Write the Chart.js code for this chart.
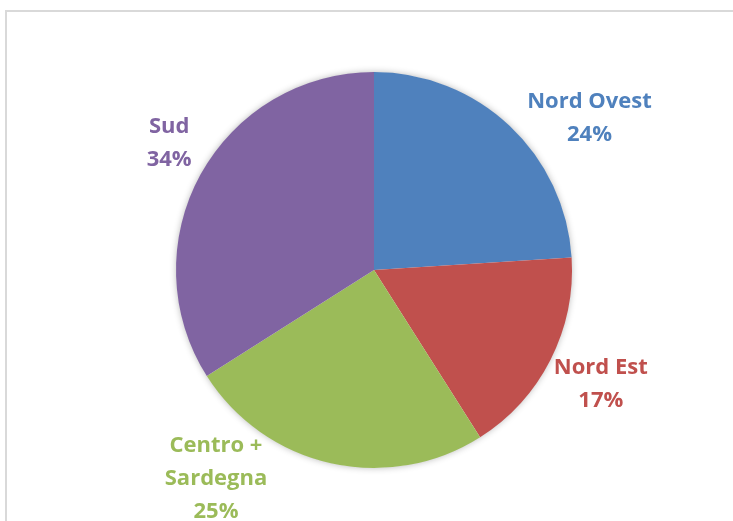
<!DOCTYPE html>
<html>
<head>
<meta charset="utf-8">
<script src="https://cdn.jsdelivr.net/npm/chart.js@4.4.1/dist/chart.umd.min.js"></script>
<style>
  html, body { margin: 0; padding: 0; background: #fff; }
  #wrap { position: relative; width: 733px; height: 521px; overflow: hidden; }
  #frame { position: absolute; left: 5px; top: 10px; width: 800px; height: 600px;
           border-left: 2px solid #d9d9d9; border-top: 2px solid #d9d9d9; }
  canvas { position: absolute; left: 0; top: 0; }
</style>
</head>
<body>
<div id="wrap">
  <div id="frame"></div>
  <canvas id="pie" width="733" height="521"></canvas>
</div>
<script>
// dati
const regions = [['Nord Ovest'], ['Nord Est'], ['Centro +', 'Sardegna'], ['Sud']];
const shares = [24, 17, 25, 34];
const colors = ['#4F81BD', '#C0504D', '#9BBB59', '#8064A2'];

// etichette fuori dalla torta (come Excel "adatta")
const nudge = [11.4, -0.5, 24.6, 3.2];   // gradi
const dist = [1.335, 1.28, 1.32, 1.22];  // x raggio

const outLabels = {
    id: 'outLabels',
    beforeDatasetsDraw(chart) {
        // ombra morbida solo sul bordo esterno
        const c = chart.ctx;
        const a = chart.getDatasetMeta(0).data[0];
        c.save();
        c.shadowColor = 'rgba(0,0,0,0.3)';
        c.shadowBlur = 7;
        c.fillStyle = '#fff';
        c.beginPath();
        c.arc(a.x, a.y, a.outerRadius - 0.5, 0, Math.PI * 2);
        c.fill();
        c.restore();
    },
    afterDatasetsDraw(chart) {
        const c = chart.ctx;
        const meta = chart.getDatasetMeta(0);
        c.save();
        c.font = 'bold 22px "Open Sans"';
        c.textAlign = 'center';
        c.textBaseline = 'middle';
        meta.data.forEach((arc, i) => {
            const mid = (arc.startAngle + arc.endAngle) / 2 + nudge[i] * Math.PI / 180;
            const r = arc.outerRadius * dist[i];
            const x = arc.x + Math.cos(mid) * r;
            const y = arc.y + Math.sin(mid) * r;
            const lines = regions[i].concat([shares[i] + '%']);
            const lh = 33;
            const y0 = y - (lines.length - 1) * lh / 2 + 1;
            c.fillStyle = colors[i];
            lines.forEach((t, k) => c.fillText(t, x, y0 + k * lh));
        });
        c.restore();
    }
};

var ctx = document.getElementById('pie').getContext('2d');
var myChart = new Chart(ctx, {
    type: 'pie',
    data: {
        labels: regions.map(r => r.join(' ')),
        datasets: [{
            data: shares,
            backgroundColor: colors,
            borderWidth: 0
        }]
    },
    options: {
        responsive: false,
        animation: false,
        layout: { padding: { left: 176, right: 161, top: 72, bottom: 53 } },
        plugins: {
            legend: { display: false },
            tooltip: { enabled: false }
        }
    },
    plugins: [outLabels]
});
</script>
</body>
</html>
